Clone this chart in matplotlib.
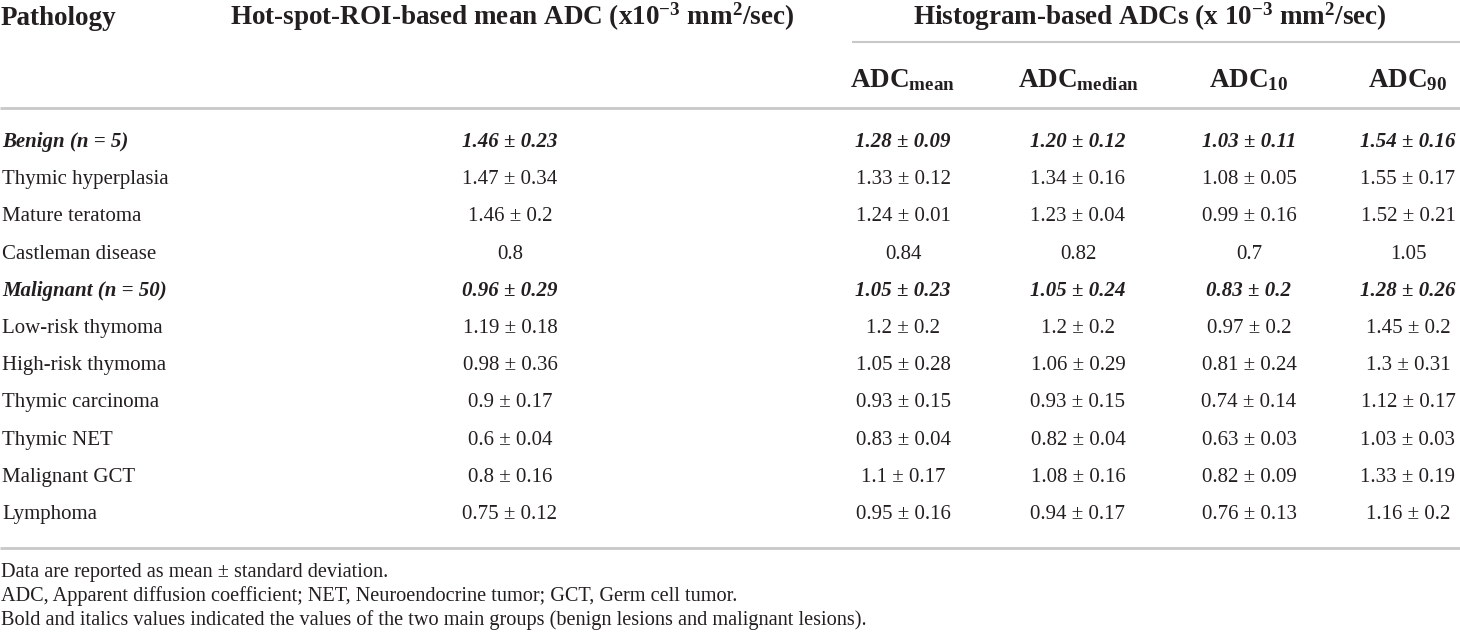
import matplotlib
matplotlib.use("Agg")
import matplotlib.pyplot as plt
import numpy as np

plt.rcParams['font.family'] = ['Liberation Serif', 'DejaVu Serif']
plt.rcParams['mathtext.fontset'] = 'custom'
plt.rcParams['mathtext.rm'] = 'Liberation Serif'
plt.rcParams['mathtext.it'] = 'Liberation Serif:italic'
plt.rcParams['mathtext.bf'] = 'Liberation Serif:bold'

# table data
pathology = ["Benign (n = 5)", "Thymic hyperplasia", "Mature teratoma", "Castleman disease",
             "Malignant (n = 50)", "Low-risk thymoma", "High-risk thymoma", "Thymic carcinoma",
             "Thymic NET", "Malignant GCT", "Lymphoma"]
is_group = [True, False, False, False, True, False, False, False, False, False, False]
hotspot = ["1.46 ± 0.23", "1.47 ± 0.34", "1.46 ± 0.2", "0.8", "0.96 ± 0.29", "1.19 ± 0.18",
           "0.98 ± 0.36", "0.9 ± 0.17", "0.6 ± 0.04", "0.8 ± 0.16", "0.75 ± 0.12"]
adc_mean = ["1.28 ± 0.09", "1.33 ± 0.12", "1.24 ± 0.01", "0.84", "1.05 ± 0.23", "1.2 ± 0.2",
            "1.05 ± 0.28", "0.93 ± 0.15", "0.83 ± 0.04", "1.1 ± 0.17", "0.95 ± 0.16"]
adc_median = ["1.20 ± 0.12", "1.34 ± 0.16", "1.23 ± 0.04", "0.82", "1.05 ± 0.24", "1.2 ± 0.2",
              "1.06 ± 0.29", "0.93 ± 0.15", "0.82 ± 0.04", "1.08 ± 0.16", "0.94 ± 0.17"]
adc_10 = ["1.03 ± 0.11", "1.08 ± 0.05", "0.99 ± 0.16", "0.7", "0.83 ± 0.2", "0.97 ± 0.2",
          "0.81 ± 0.24", "0.74 ± 0.14", "0.63 ± 0.03", "0.82 ± 0.09", "0.76 ± 0.13"]
adc_90 = ["1.54 ± 0.16", "1.55 ± 0.17", "1.52 ± 0.21", "1.05", "1.28 ± 0.26", "1.45 ± 0.2",
          "1.3 ± 0.31", "1.12 ± 0.17", "1.03 ± 0.03", "1.33 ± 0.19", "1.16 ± 0.2"]
sub_headers = [r"ADC$_{\mathbf{mean}}$", r"ADC$_{\mathbf{median}}$", r"ADC$_{\mathbf{10}}$", r"ADC$_{\mathbf{90}}$"]
footnotes = ["Data are reported as mean ± standard deviation.",
             "ADC, Apparent diffusion coefficient; NET, Neuroendocrine tumor; GCT, Germ cell tumor.",
             "Bold and italics values indicated the values of the two main groups (benign lesions and malignant lesions)."]

W, H = 1460, 633
fig = plt.figure(figsize=(W / 100, H / 100), dpi=100)
ax = fig.add_axes([0, 0, 1, 1])
ax.set_xlim(0, W)
ax.set_ylim(H, 0)
ax.axis('off')

ink = '#231f20'
rule = '#c8c8c8'
head_fs = 19.5
body_fs = 15
foot_fs = 14.6

# header
ax.text(1, 25, "Pathology", fontsize=head_fs, fontweight='bold', color=ink, va='baseline', ha='left')
ax.text(512, 25, r"Hot-spot-ROI-based mean ADC (x10$^{\mathbf{-3}}$ mm$^{\mathbf{2}}$/sec)",
        fontsize=head_fs, fontweight='bold', color=ink, va='baseline', ha='center')
ax.text(1150, 25, r"Histogram-based ADCs (x 10$^{\mathbf{-3}}$ mm$^{\mathbf{2}}$/sec)",
        fontsize=head_fs, fontweight='bold', color=ink, va='baseline', ha='center')
ax.plot([852, W], [42, 42], color=rule, lw=1.5, solid_capstyle='butt')

col_x = [903, 1078, 1249, 1408]
for x, lab in zip(col_x, sub_headers):
    ax.text(x, 87, lab, fontsize=head_fs, fontweight='bold', color=ink, va='baseline', ha='center')
ax.plot([0, W], [108, 108], color=rule, lw=2, solid_capstyle='butt')

# body rows
row_y = 147 + np.arange(len(pathology)) * 37.2
cols = [adc_mean, adc_median, adc_10, adc_90]
for i, y in enumerate(row_y):
    kw = dict(fontsize=body_fs, color=ink, va='baseline')
    if is_group[i]:
        kw.update(fontweight='bold', fontstyle='italic')
    ax.text(2, y, pathology[i], ha='left', **kw)
    ax.text(510, y, hotspot[i], ha='center', **kw)
    for x, c in zip(col_x, cols):
        ax.text(x, y, c[i], ha='center', **kw)

ax.plot([0, W], [548, 548], color=rule, lw=2, solid_capstyle='butt')

for j, note in enumerate(footnotes):
    ax.text(1, 577 + j * 24, note, fontsize=foot_fs, color=ink, va='baseline', ha='left')

fig.savefig("out.png", dpi=100)
